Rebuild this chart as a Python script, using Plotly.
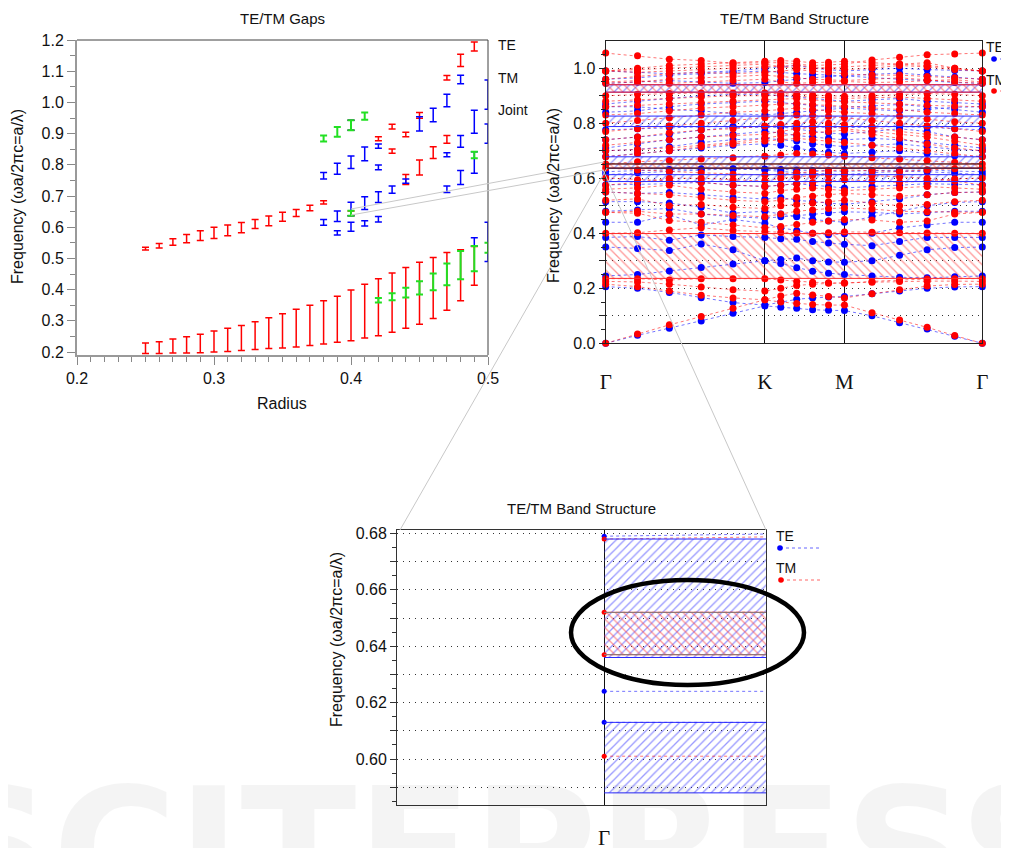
import plotly.graph_objects as go

W, H = 1009, 848
OFF = 8  # page body margin in the browser

# ---------------- Left panel: gap map (radius vs gap edges) ----------------
red_r = [0.25, 0.26, 0.27, 0.28, 0.29, 0.30, 0.31, 0.32, 0.33, 0.34, 0.35, 0.36, 0.37, 0.38, 0.39, 0.40,
         0.41, 0.42, 0.43, 0.44, 0.45, 0.46, 0.47, 0.48, 0.49,
         0.25, 0.26, 0.27, 0.28, 0.29, 0.30, 0.31, 0.32, 0.33, 0.34, 0.35, 0.36, 0.37, 0.38,
         0.40, 0.40, 0.42, 0.43, 0.43, 0.44, 0.44, 0.45, 0.45, 0.46, 0.47, 0.47, 0.48, 0.49]
red_lo = [0.195, 0.195, 0.197, 0.197, 0.198, 0.200, 0.202, 0.205, 0.208, 0.211, 0.213, 0.216, 0.221, 0.226,
          0.231, 0.236, 0.245, 0.252, 0.263, 0.276, 0.289, 0.307, 0.334, 0.364, 0.414,
          0.527, 0.533, 0.542, 0.550, 0.557, 0.564, 0.573, 0.582, 0.596, 0.605, 0.619, 0.634, 0.653, 0.674,
          0.637, 0.911, 0.877, 0.915, 0.837, 0.890, 0.737, 0.949, 0.767, 0.820, 1.072, 0.869, 1.115, 1.165]
red_hi = [0.229, 0.233, 0.242, 0.249, 0.257, 0.267, 0.276, 0.285, 0.297, 0.310, 0.323, 0.337, 0.350, 0.364,
          0.379, 0.399, 0.417, 0.435, 0.453, 0.471, 0.488, 0.503, 0.519, 0.528, 0.538,
          0.536, 0.548, 0.563, 0.577, 0.589, 0.600, 0.607, 0.615, 0.625, 0.636, 0.648, 0.657, 0.670, 0.685,
          0.652, 0.9425, 0.890, 0.930, 0.851, 0.904, 0.769, 0.968, 0.815, 0.858, 1.086, 0.894, 1.154, 1.1935]

blue_r = [0.38, 0.38, 0.39, 0.39, 0.39, 0.40, 0.40, 0.40, 0.40, 0.41, 0.41, 0.41, 0.42, 0.42, 0.42, 0.42,
          0.43, 0.44, 0.45, 0.46, 0.47, 0.47, 0.47, 0.48, 0.48, 0.48, 0.49, 0.49, 0.49, 0.50, 0.50, 0.50]
blue_lo = [0.606, 0.7545, 0.575, 0.618, 0.770, 0.587, 0.637, 0.788, 0.911, 0.604, 0.657, 0.813, 0.617, 0.679,
           0.784, 0.853, 0.7085, 0.7405, 0.908, 0.938, 0.986, 0.826, 0.711, 1.060, 0.856, 0.737,
           0.901, 0.773, 0.540, 0.978, 0.869, 0.490]
blue_hi = [0.625, 0.775, 0.589, 0.652, 0.805, 0.6155, 0.680, 0.828, 0.9425, 0.621, 0.698, 0.857, 0.634, 0.714,
           0.799, 0.867, 0.732, 0.7545, 0.954, 0.981, 1.026, 0.839, 0.732, 1.087, 0.894, 0.782,
           0.975, 0.842, 0.566, 1.072, 0.931, 0.616]

green_r = [0.38, 0.39, 0.40, 0.40, 0.41, 0.42, 0.43, 0.44, 0.45, 0.46, 0.47, 0.48, 0.49, 0.49, 0.50]
green_lo = [0.875, 0.890, 0.911, 0.637, 0.944, 0.359, 0.366, 0.375, 0.384, 0.398, 0.414, 0.433, 0.459, 0.821, 0.518]
green_hi = [0.894, 0.921, 0.9425, 0.653, 0.968, 0.373, 0.388, 0.406, 0.4265, 0.452, 0.484, 0.524, 0.540, 0.842, 0.550]

gap_labels = ["TE", "TM", "Joint"]

# ---------------- Band structure ----------------
k_dist = [0.0, 0.1333, 0.2667, 0.4, 0.5333, 0.6667, 0.7333, 0.8, 0.8667, 0.9333, 1.0,
          1.1155, 1.2309, 1.3464, 1.4619, 1.5774]
k_tick_vals = [0.0, 0.6667, 1.0, 1.5774]
k_tick_text = ["Γ", "K", "M", "Γ"]

te_bands = [  # blue
    [0.000, 0.029, 0.055, 0.081, 0.109, 0.136, 0.131, 0.127, 0.122, 0.120, 0.119, 0.100, 0.075, 0.052, 0.026, 0.000],
    [0.206, 0.200, 0.185, 0.166, 0.148, 0.139, 0.150, 0.160, 0.165, 0.168, 0.170, 0.180, 0.190, 0.200, 0.205, 0.206],
    [0.245, 0.250, 0.263, 0.276, 0.288, 0.300, 0.290, 0.275, 0.262, 0.255, 0.250, 0.245, 0.240, 0.238, 0.242, 0.245],
    [0.350, 0.345, 0.337, 0.361, 0.340, 0.300, 0.305, 0.310, 0.300, 0.296, 0.295, 0.300, 0.320, 0.340, 0.348, 0.350],
    [0.385, 0.388, 0.375, 0.394, 0.388, 0.385, 0.380, 0.378, 0.370, 0.365, 0.360, 0.355, 0.370, 0.385, 0.385, 0.385],
    [0.440, 0.440, 0.467, 0.430, 0.450, 0.436, 0.420, 0.410, 0.400, 0.395, 0.398, 0.400, 0.420, 0.430, 0.440, 0.440],
    [0.480, 0.485, 0.490, 0.470, 0.460, 0.455, 0.460, 0.465, 0.470, 0.475, 0.478, 0.476, 0.470, 0.475, 0.480, 0.480],
    [0.515, 0.515, 0.510, 0.495, 0.473, 0.480, 0.470, 0.460, 0.450, 0.445, 0.440, 0.460, 0.480, 0.500, 0.512, 0.515],
    [0.550, 0.545, 0.548, 0.540, 0.530, 0.524, 0.530, 0.520, 0.515, 0.510, 0.505, 0.515, 0.525, 0.540, 0.548, 0.550],
    [0.576, 0.578, 0.580, 0.585, 0.575, 0.570, 0.575, 0.580, 0.575, 0.570, 0.565, 0.570, 0.575, 0.580, 0.578, 0.576],
    [0.613, 0.620, 0.625, 0.630, 0.634, 0.630, 0.625, 0.620, 0.618, 0.615, 0.613, 0.620, 0.625, 0.624, 0.618, 0.613],
    [0.624, 0.628, 0.632, 0.635, 0.635, 0.634, 0.632, 0.630, 0.628, 0.626, 0.625, 0.628, 0.630, 0.630, 0.626, 0.624],
    [0.679, 0.690, 0.700, 0.710, 0.720, 0.725, 0.720, 0.710, 0.700, 0.695, 0.690, 0.695, 0.700, 0.690, 0.682, 0.679],
    [0.700, 0.705, 0.715, 0.730, 0.740, 0.745, 0.740, 0.735, 0.725, 0.720, 0.715, 0.720, 0.725, 0.715, 0.705, 0.700],
    [0.710, 0.725, 0.740, 0.750, 0.760, 0.770, 0.765, 0.755, 0.750, 0.745, 0.740, 0.745, 0.740, 0.730, 0.720, 0.710],
    [0.740, 0.750, 0.760, 0.775, 0.785, 0.786, 0.786, 0.780, 0.770, 0.765, 0.760, 0.770, 0.780, 0.770, 0.750, 0.740],
    [0.776, 0.780, 0.785, 0.787, 0.788, 0.788, 0.788, 0.787, 0.786, 0.785, 0.784, 0.786, 0.788, 0.785, 0.780, 0.776],
    [0.840, 0.845, 0.860, 0.870, 0.875, 0.880, 0.875, 0.870, 0.865, 0.860, 0.858, 0.862, 0.868, 0.860, 0.850, 0.840],
    [0.860, 0.860, 0.850, 0.845, 0.835, 0.830, 0.835, 0.840, 0.845, 0.850, 0.855, 0.850, 0.845, 0.850, 0.858, 0.860],
    [0.870, 0.880, 0.890, 0.900, 0.905, 0.905, 0.900, 0.895, 0.890, 0.885, 0.880, 0.885, 0.890, 0.880, 0.875, 0.870],
    [0.945, 0.950, 0.955, 0.950, 0.945, 0.948, 0.955, 0.960, 0.965, 0.970, 0.972, 0.965, 0.960, 0.955, 0.948, 0.945],
    [0.960, 0.965, 0.975, 0.980, 0.985, 0.990, 0.985, 0.980, 0.978, 0.975, 0.972, 0.978, 0.982, 0.975, 0.968, 0.960],
    [0.990, 0.985, 0.980, 0.985, 0.990, 1.000, 1.005, 1.010, 1.000, 0.995, 0.990, 0.995, 1.000, 0.995, 0.992, 0.990],
]

tm_bands = [  # red
    [0.000, 0.034, 0.067, 0.097, 0.127, 0.158, 0.150, 0.145, 0.141, 0.139, 0.139, 0.111, 0.085, 0.058, 0.028, 0.000],
    [0.215, 0.206, 0.190, 0.175, 0.165, 0.158, 0.172, 0.182, 0.176, 0.170, 0.165, 0.180, 0.195, 0.208, 0.214, 0.215],
    [0.225, 0.223, 0.215, 0.205, 0.195, 0.190, 0.200, 0.210, 0.215, 0.218, 0.220, 0.222, 0.225, 0.226, 0.226, 0.225],
    [0.235, 0.235, 0.230, 0.235, 0.235, 0.235, 0.230, 0.225, 0.222, 0.220, 0.218, 0.225, 0.230, 0.234, 0.235, 0.235],
    [0.400, 0.402, 0.412, 0.420, 0.410, 0.405, 0.403, 0.401, 0.400, 0.402, 0.405, 0.404, 0.402, 0.401, 0.400, 0.400],
    [0.476, 0.473, 0.446, 0.440, 0.430, 0.420, 0.425, 0.432, 0.440, 0.445, 0.450, 0.448, 0.440, 0.445, 0.470, 0.476],
    [0.476, 0.480, 0.470, 0.470, 0.465, 0.460, 0.470, 0.480, 0.485, 0.490, 0.492, 0.488, 0.480, 0.478, 0.476, 0.476],
    [0.520, 0.525, 0.500, 0.505, 0.495, 0.490, 0.500, 0.505, 0.510, 0.515, 0.520, 0.510, 0.500, 0.505, 0.515, 0.520],
    [0.550, 0.545, 0.540, 0.530, 0.520, 0.515, 0.520, 0.530, 0.535, 0.540, 0.545, 0.540, 0.535, 0.540, 0.548, 0.550],
    [0.560, 0.565, 0.575, 0.560, 0.550, 0.545, 0.555, 0.560, 0.565, 0.560, 0.555, 0.560, 0.565, 0.570, 0.565, 0.560],
    [0.575, 0.585, 0.600, 0.600, 0.595, 0.590, 0.600, 0.605, 0.610, 0.612, 0.615, 0.610, 0.605, 0.600, 0.590, 0.575],
    [0.601, 0.595, 0.590, 0.585, 0.575, 0.570, 0.575, 0.580, 0.585, 0.590, 0.595, 0.590, 0.585, 0.590, 0.598, 0.601],
    [0.637, 0.630, 0.625, 0.620, 0.615, 0.612, 0.615, 0.620, 0.625, 0.628, 0.630, 0.628, 0.625, 0.630, 0.635, 0.637],
    [0.652, 0.660, 0.665, 0.670, 0.675, 0.680, 0.685, 0.690, 0.688, 0.685, 0.680, 0.675, 0.670, 0.665, 0.658, 0.652],
    [0.678, 0.690, 0.700, 0.715, 0.725, 0.735, 0.740, 0.745, 0.740, 0.735, 0.730, 0.720, 0.710, 0.700, 0.690, 0.678],
    [0.700, 0.705, 0.710, 0.720, 0.730, 0.745, 0.755, 0.760, 0.765, 0.770, 0.775, 0.760, 0.745, 0.725, 0.710, 0.700],
    [0.720, 0.730, 0.740, 0.750, 0.755, 0.760, 0.770, 0.780, 0.785, 0.790, 0.780, 0.770, 0.760, 0.750, 0.735, 0.720],
    [0.740, 0.750, 0.765, 0.775, 0.780, 0.790, 0.795, 0.800, 0.805, 0.800, 0.795, 0.785, 0.770, 0.760, 0.750, 0.740],
    [0.770, 0.780, 0.790, 0.800, 0.810, 0.820, 0.825, 0.830, 0.828, 0.825, 0.820, 0.810, 0.800, 0.790, 0.780, 0.770],
    [0.800, 0.810, 0.820, 0.830, 0.840, 0.845, 0.850, 0.855, 0.850, 0.845, 0.840, 0.835, 0.825, 0.815, 0.805, 0.800],
    [0.830, 0.835, 0.845, 0.855, 0.860, 0.865, 0.870, 0.872, 0.868, 0.865, 0.860, 0.855, 0.850, 0.840, 0.835, 0.830],
    [0.860, 0.865, 0.870, 0.875, 0.880, 0.885, 0.888, 0.890, 0.885, 0.880, 0.878, 0.875, 0.870, 0.865, 0.862, 0.860],
    [0.880, 0.885, 0.890, 0.895, 0.900, 0.900, 0.902, 0.898, 0.895, 0.892, 0.890, 0.893, 0.895, 0.890, 0.885, 0.880],
    [0.900, 0.905, 0.908, 0.910, 0.910, 0.910, 0.908, 0.905, 0.903, 0.900, 0.898, 0.900, 0.905, 0.908, 0.905, 0.900],
    [0.945, 0.950, 0.960, 0.965, 0.970, 0.975, 0.970, 0.965, 0.960, 0.958, 0.955, 0.960, 0.965, 0.958, 0.950, 0.945],
    [0.950, 0.955, 0.945, 0.950, 0.955, 0.960, 0.950, 0.945, 0.948, 0.950, 0.952, 0.948, 0.950, 0.955, 0.958, 0.950],
    [0.960, 0.970, 0.980, 0.985, 0.980, 0.985, 0.990, 0.995, 0.990, 0.985, 0.980, 0.975, 0.975, 0.970, 0.965, 0.960],
    [0.990, 0.985, 0.990, 0.995, 1.000, 1.005, 1.010, 1.010, 1.005, 1.000, 0.995, 1.000, 1.010, 1.005, 0.995, 0.990],
    [0.990, 0.995, 1.000, 1.005, 1.010, 1.015, 1.005, 1.000, 0.998, 1.000, 1.005, 1.010, 1.015, 1.020, 1.000, 0.990],
    [0.990, 1.000, 1.010, 1.015, 1.020, 1.025, 1.028, 1.025, 1.020, 1.022, 1.025, 1.020, 1.015, 1.010, 1.000, 0.990],
    [1.055, 1.045, 1.033, 1.028, 1.018, 1.020, 1.020, 1.015, 1.010, 1.012, 1.015, 1.030, 1.040, 1.049, 1.052, 1.055],
]

te_gap_lo = [0.588, 0.636, 0.788, 0.913]
te_gap_hi = [0.613, 0.678, 0.826, 0.940]
tm_gap_lo = [0.236, 0.637, 0.913]
tm_gap_hi = [0.399, 0.652, 0.940]
joint_lines = [0.637, 0.652]

freq_ticks_top = [0.0, 0.1, 0.2, 0.3, 0.4, 0.5, 0.6, 0.7, 0.8, 0.9, 1.0]
freq_ticks_zoom = [0.59, 0.60, 0.61, 0.62, 0.63, 0.64, 0.65, 0.66, 0.67, 0.68]

RED = "#ff0000"
BLUE = "#0000ff"
GREEN = "#22e022"
FONT = "Liberation Sans, Arial, sans-serif"
SERIF = "Liberation Serif, Times New Roman, serif"


def px(x):
    return (x - OFF) / W


def py(y):
    return 1 - (y - OFF) / H


fig = go.Figure()


# ---------- gap map error bars ----------
def errbars(r, lo, hi, color, thick=1.5):
    return go.Scatter(
        x=r, y=lo, mode="markers", marker=dict(size=1, opacity=0),
        error_y=dict(type="data", symmetric=False,
                     array=[h - l for l, h in zip(lo, hi)], arrayminus=[0] * len(lo),
                     color=color, thickness=thick, width=3.5),
        xaxis="x", yaxis="y", showlegend=False, hoverinfo="skip")


fig.add_trace(errbars(red_r, red_lo, red_hi, RED))
fig.add_trace(errbars(blue_r, blue_lo, blue_hi, BLUE))
fig.add_trace(errbars(green_r, green_lo, green_hi, GREEN, 2))


# ---------- band structure panels ----------
def gap_fill(lo, hi, color, pattern, xa, ya):
    x0, x1 = k_dist[0], k_dist[-1]
    return go.Scatter(
        x=[x0, x1, x1, x0, x0], y=[lo, lo, hi, hi, lo], mode="none", fill="toself",
        fillcolor="rgba(0,0,0,0)",
        fillpattern=dict(shape=pattern, fgcolor=color, bgcolor="rgba(0,0,0,0)", size=6, solidity=0.22),
        xaxis=xa, yaxis=ya, showlegend=False, hoverinfo="skip")


def hline_trace(val, color, xa, ya, width=1):
    return go.Scatter(x=[k_dist[0], k_dist[-1]], y=[val, val], mode="lines",
                      line=dict(color=color, width=width), xaxis=xa, yaxis=ya,
                      showlegend=False, hoverinfo="skip")


def band_trace(bands, color, lcolor, xa, ya, msize, clip):
    xs, ys = [], []
    for b in bands:
        xs += list(k_dist) + [None]
        ys += list(b) + [None]
    return go.Scatter(x=xs, y=ys, mode="lines+markers",
                      line=dict(color=lcolor, width=1, dash="dot"),
                      marker=dict(color=color, size=msize, line=dict(width=0)),
                      cliponaxis=clip, xaxis=xa, yaxis=ya, showlegend=False, hoverinfo="skip")


for xa, ya, msize, clip, jcol in [("x2", "y2", 7, False, "#202020"), ("x3", "y3", 5, True, "#808080")]:
    for lo, hi in zip(te_gap_lo, te_gap_hi):
        fig.add_trace(gap_fill(lo, hi, "rgb(50,50,255)", "/", xa, ya))
    for lo, hi in zip(tm_gap_lo, tm_gap_hi):
        fig.add_trace(gap_fill(lo, hi, "rgb(255,50,50)", "\\", xa, ya))
    fig.add_trace(band_trace(te_bands, BLUE, "rgba(0,0,255,0.55)", xa, ya, msize, clip))
    fig.add_trace(band_trace(tm_bands, RED, "rgba(255,0,0,0.55)", xa, ya, msize, clip))
    for lo, hi in zip(te_gap_lo, te_gap_hi):
        fig.add_trace(hline_trace(lo, "rgb(40,40,255)", xa, ya))
        fig.add_trace(hline_trace(hi, "rgb(40,40,255)", xa, ya))
    for lo, hi in zip(tm_gap_lo, tm_gap_hi):
        fig.add_trace(hline_trace(lo, "rgb(255,40,40)", xa, ya))
        fig.add_trace(hline_trace(hi, "rgb(255,40,40)", xa, ya))
    for v in joint_lines:
        fig.add_trace(hline_trace(v, jcol, xa, ya))

# ---------- axes ----------
axis_common = dict(showgrid=False, zeroline=False, ticks="outside", automargin=False,
                   tickfont=dict(family=FONT, size=16, color="#111"))

fig.update_layout(
    width=W, height=H, margin=dict(l=0, r=0, t=0, b=0, pad=0, autoexpand=False),
    paper_bgcolor="white", plot_bgcolor="white",
    font=dict(family=FONT, color="#111"), showlegend=False,
    xaxis=dict(domain=[px(77), px(488)], range=[0.2, 0.5], dtick=0.1, tickformat=".1f",
               showline=True, linecolor="#999", linewidth=2, tickcolor="#888", ticklen=8, tickwidth=1,
               minor=dict(dtick=0.01, ticks="outside", ticklen=5, tickcolor="#888"),
               **axis_common),
    yaxis=dict(domain=[py(355), py(40)], range=[0.1904, 1.2], dtick=0.1, tickformat=".1f",
               showline=True, linecolor="#999", linewidth=2, tickcolor="#888", ticklen=8, tickwidth=1,
               minor=dict(dtick=0.05, ticks="outside", ticklen=5, tickcolor="#888"),
               **axis_common),
    xaxis2=dict(domain=[px(605.7), px(982.3)], range=[k_dist[0], k_dist[-1]], anchor="y2",
                tickvals=k_tick_vals, ticktext=k_tick_text, ticks="", showgrid=True, automargin=False,
                gridcolor="#111", gridwidth=1, zeroline=False, showline=True, mirror=True,
                linecolor="#222", linewidth=1, ticklabelstandoff=19,
                tickfont=dict(family=SERIF, size=21, color="#111")),
    yaxis2=dict(domain=[py(343.3), py(41)], range=[0, 1.099], anchor="x2", automargin=False,
                tickvals=freq_ticks_top,
                ticktext=[("%.1f" % v) if i % 2 == 0 else "" for i, v in enumerate(freq_ticks_top)],
                ticks="outside", ticklen=6, tickcolor="#222", showgrid=True, gridcolor="#333",
                griddash="1px,5px", gridwidth=1, zeroline=False, showline=True, mirror=True,
                linecolor="#222", linewidth=1,
                minor=dict(dtick=0.05, ticks="outside", ticklen=4, tickcolor="#222"),
                tickfont=dict(family=FONT, size=16, color="#111")),
    xaxis3=dict(domain=[px(397), px(766)], range=[-0.0256, 0.02], anchor="y3", automargin=False,
                tickvals=[0.0], ticktext=["Γ"], ticks="", showgrid=True, gridcolor="#111",
                zeroline=False, showline=True, mirror=True, linecolor="#333", linewidth=1,
                ticklabelstandoff=14, tickfont=dict(family=SERIF, size=21, color="#111")),
    yaxis3=dict(domain=[py(805), py(530)], range=[0.5837, 0.6812], anchor="x3", automargin=False,
                tickvals=freq_ticks_zoom,
                ticktext=[("%.2f" % v) if i % 2 == 1 else "" for i, v in enumerate(freq_ticks_zoom)],
                ticks="outside", ticklen=6, tickcolor="#333", showgrid=True, gridcolor="#333",
                griddash="1px,5px", gridwidth=1, zeroline=False, showline=True, mirror=True,
                linecolor="#333", linewidth=1,
                minor=dict(dtick=0.005, ticks="outside", ticklen=4, tickcolor="#333"),
                tickfont=dict(family=FONT, size=16, color="#111")),
)

# ---------- annotations ----------
ann = []


def text(x, y, s, size=15, angle=0, xanchor="center", family=FONT, color="#111"):
    ann.append(dict(x=px(x), y=py(y), xref="paper", yref="paper", text=s, showarrow=False,
                    textangle=angle, xanchor=xanchor, yanchor="middle",
                    font=dict(family=family, size=size, color=color)))


# watermark
text(505, 850, "<b>SCITEPRESS</b>", size=170, color="rgba(0,0,0,0.045)", family="DejaVu Sans, sans-serif")

text(282, 18, "TE/TM Gaps")
text(794, 19, "TE/TM Band Structure")
text(581, 508, "TE/TM Band Structure")
text(18, 197, "Frequency (ωa/2πc=a/λ)", size=16, angle=-90)
text(553, 196, "Frequency (ωa/2πc=a/λ)", size=16, angle=-90)
text(336, 640, "Frequency (ωa/2πc=a/λ)", size=16, angle=-90)
text(282, 403, "Radius", size=16)
for lab, yy in zip(gap_labels, [45, 78, 110]):
    text(496, yy, lab, size=14, xanchor="left")
# legends
text(984, 47, "TE", size=14, xanchor="left")
text(984, 80, "TM", size=14, xanchor="left")
text(774, 536, "TE", size=14, xanchor="left")
text(774, 568, "TM", size=14, xanchor="left")

# ---------- shapes ----------
shapes = []


def seg(x0, y0, x1, y1, color, width=1, dash="solid"):
    shapes.append(dict(type="line", xref="paper", yref="paper", x0=px(x0), y0=py(y0),
                       x1=px(x1), y1=py(y1), line=dict(color=color, width=width, dash=dash)))


def dot(x, y, color, r=2.8):
    shapes.append(dict(type="circle", xref="paper", yref="paper", x0=px(x - r), x1=px(x + r),
                       y0=py(y + r), y1=py(y - r), fillcolor=color, line=dict(width=0)))


# frame of gap map (top/right)
seg(77, 40, 488, 40, "#404040")
seg(488, 40, 488, 355, "#404040")
# connector lines
seg(351, 209, 604, 162, "#c8c8c8")
seg(351, 215, 604, 170, "#c8c8c8")
seg(607, 168, 400, 530, "#c8c8c8")
seg(603, 170, 766, 530, "#c8c8c8")
# legend symbols
seg(994, 59, 1012, 59, "rgba(0,0,255,0.6)", 1, "dot")
dot(994, 59, BLUE)
seg(994, 91, 1012, 91, "rgba(255,0,0,0.6)", 1, "dot")
dot(994, 91, RED)
seg(780, 548, 822, 548, "rgba(0,0,255,0.6)", 1, "dot")
dot(780, 548, BLUE)
seg(781, 580, 822, 580, "rgba(255,0,0,0.6)", 1, "dot")
dot(781, 580, RED)
# highlight ellipse
shapes.append(dict(type="circle", xref="paper", yref="paper", x0=px(571), x1=px(804),
                   y0=py(685), y1=py(580), line=dict(color="black", width=4.5)))

fig.update_layout(annotations=ann, shapes=shapes)
fig.write_html("out.html")
